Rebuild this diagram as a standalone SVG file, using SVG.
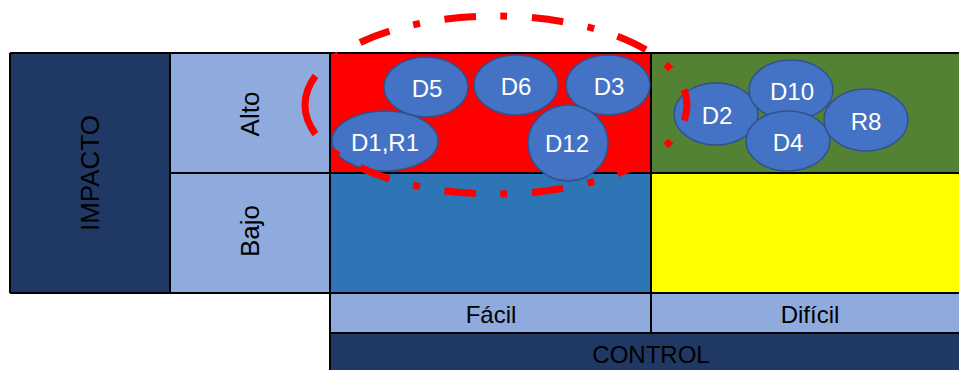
<svg xmlns="http://www.w3.org/2000/svg" width="959" height="370" viewBox="0 0 959 370">
<style>
.lbl{font-family:"Liberation Sans",Arial,sans-serif;fill:#000;text-anchor:middle}
.d{fill:#4472C4;stroke:#2F528F;stroke-width:1.5}
.dt{font-family:"Liberation Sans",Arial,sans-serif;font-size:24px;fill:#fff;text-anchor:middle}
.grid{stroke:#000;stroke-width:2;fill:none}
.hl{fill:none;stroke:#FF0000;stroke-width:7;stroke-dasharray:32 25 7 25;stroke-linecap:butt}
</style>
<rect width="959" height="370" fill="#fff"/>
<g id="impacto">
<rect x="10" y="53" width="160" height="240" fill="#203864"/>
<text class="lbl" font-size="26" transform="translate(90,173) rotate(-90)" y="9">IMPACTO</text>
</g>
<g id="alto">
<rect x="170" y="53" width="160" height="120" fill="#8FAADC"/>
<text class="lbl" font-size="26" transform="translate(250,114) rotate(-90)" y="9">Alto</text>
</g>
<g id="bajo">
<rect x="170" y="173" width="160" height="120" fill="#8FAADC"/>
<text class="lbl" font-size="26" transform="translate(250,231) rotate(-90)" y="9">Bajo</text>
</g>
<g id="cell-alto-facil"><rect x="330" y="53" width="321" height="120" fill="#FF0000"/></g>
<g id="cell-alto-dificil"><rect x="651" y="53" width="308" height="120" fill="#548235"/></g>
<g id="cell-bajo-facil"><rect x="330" y="173" width="321" height="120" fill="#2E75B6"/></g>
<g id="cell-bajo-dificil"><rect x="651" y="173" width="308" height="120" fill="#FFFF00"/></g>
<g id="facil">
<rect x="330" y="293" width="321" height="40" fill="#8FAADC"/>
<text class="lbl" font-size="24" x="491" y="323">Fácil</text>
</g>
<g id="dificil">
<rect x="651" y="293" width="308" height="40" fill="#8FAADC"/>
<text class="lbl" font-size="24" x="810" y="323">Difícil</text>
</g>
<g id="control">
<rect x="330" y="333" width="629" height="37" fill="#203864"/>
<text class="lbl" font-size="24" x="651" y="363">CONTROL</text>
</g>
<g id="grid" class="grid">
<path d="M10 53H959M170 173H959M10 293H959M330 333H959M10 53V293M170 53V293M330 53V370M651 53V333"/>
</g>
<g id="D5"><ellipse class="d" cx="426" cy="87" rx="42" ry="30"/><text class="dt" x="427" y="96.5">D5</text></g>
<g id="D1R1"><ellipse class="d" cx="385" cy="141" rx="53" ry="30"/><text class="dt" x="385" y="150.5">D1,R1</text></g>
<g id="D6"><ellipse class="d" cx="516" cy="85" rx="42" ry="30"/><text class="dt" x="516" y="94.5">D6</text></g>
<g id="D3"><ellipse class="d" cx="608" cy="85" rx="42" ry="30"/><text class="dt" x="609" y="94.5">D3</text></g>
<g id="D12"><ellipse class="d" cx="568" cy="143" rx="40" ry="38"/><text class="dt" x="567" y="152">D12</text></g>
<g id="D2"><ellipse class="d" cx="716" cy="114" rx="42" ry="31"/><text class="dt" x="717" y="123.5">D2</text></g>
<g id="D10"><ellipse class="d" cx="791" cy="90" rx="42" ry="30"/><text class="dt" x="792" y="99.5">D10</text></g>
<g id="D4"><ellipse class="d" cx="788" cy="141" rx="42" ry="30"/><text class="dt" x="788" y="150.5">D4</text></g>
<g id="R8"><ellipse class="d" cx="866" cy="120" rx="42" ry="31"/><text class="dt" x="866" y="129.5">R8</text></g>
<g id="connectors"></g>
<g id="highlight">
<path class="hl" pathLength="461" d="M305 105A191 89 0 0 1 687 105"/>
<path class="hl" pathLength="461" d="M305 105A191 89 0 0 0 687 105"/>
</g>
</svg>
